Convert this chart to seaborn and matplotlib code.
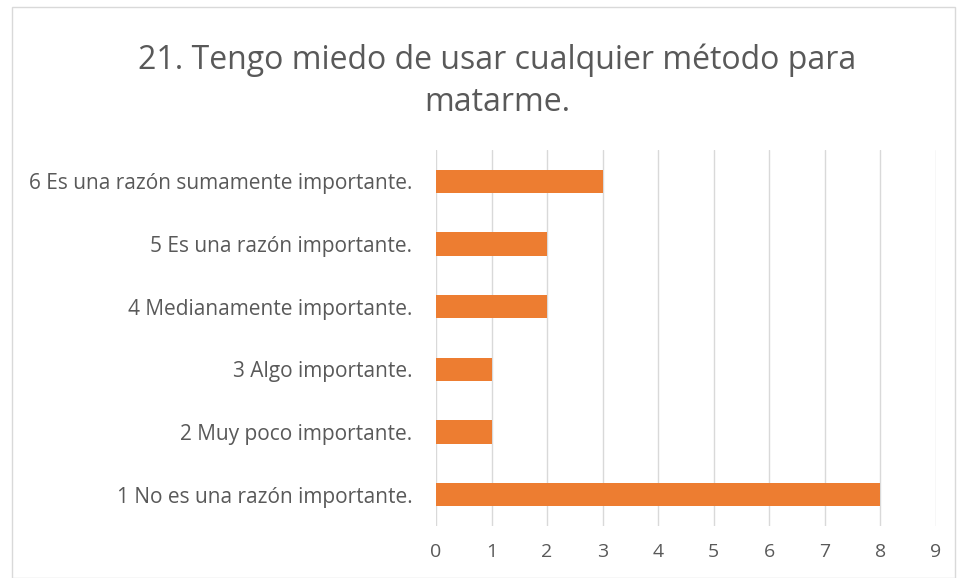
import matplotlib
matplotlib.use("Agg")
import matplotlib.pyplot as plt
import seaborn as sns
import pandas as pd
from matplotlib.patches import Rectangle

categories = [
    "6 Es una razón sumamente importante.",
    "5 Es una razón importante.",
    "4 Medianamente importante.",
    "3 Algo importante.",
    "2 Muy poco importante.",
    "1 No es una razón importante.",
]
counts = [3, 2, 2, 1, 1, 8]
x_ticks = list(range(0, 10))

df = pd.DataFrame({"categoria": categories, "n": counts})

sns.set_style("white")
plt.rcParams["font.family"] = ["Open Sans", "DejaVu Sans"]

fig = plt.figure(figsize=(9.58, 5.78), dpi=100)
ax = fig.add_axes([436 / 958, 52 / 578, 500 / 958, 376 / 578])

sns.barplot(data=df, x="n", y="categoria", order=categories, orient="h",
            color="#ED7D31", saturation=1, width=0.37, linewidth=0, ax=ax)

ax.set_xlim(0, 9)
ax.set_xticks(x_ticks)
ax.set_ylim(len(categories) - 0.5, -0.5)
ax.grid(axis="x", color="#D9D9D9", linewidth=1)
ax.set_axisbelow(True)
for s in ax.spines.values():
    s.set_visible(False)
ax.set_xlabel("")
ax.set_ylabel("")
ax.tick_params(axis="x", length=0, pad=12, labelsize=14, labelcolor="#595959")
ax.tick_params(axis="y", length=0, pad=17, labelsize=15, labelcolor="#595959")

fig.text(0.519, 0.859, "21. Tengo miedo de usar cualquier método para\nmatarme.",
         ha="center", va="center", fontsize=23, color="#595959",
         linespacing=1.35)

fig.patches.append(Rectangle((12 / 958, 0), 943 / 958, 571 / 578,
                             transform=fig.transFigure, fill=False,
                             edgecolor="#D9D9D9", linewidth=1))

fig.savefig("out.png", dpi=100)
